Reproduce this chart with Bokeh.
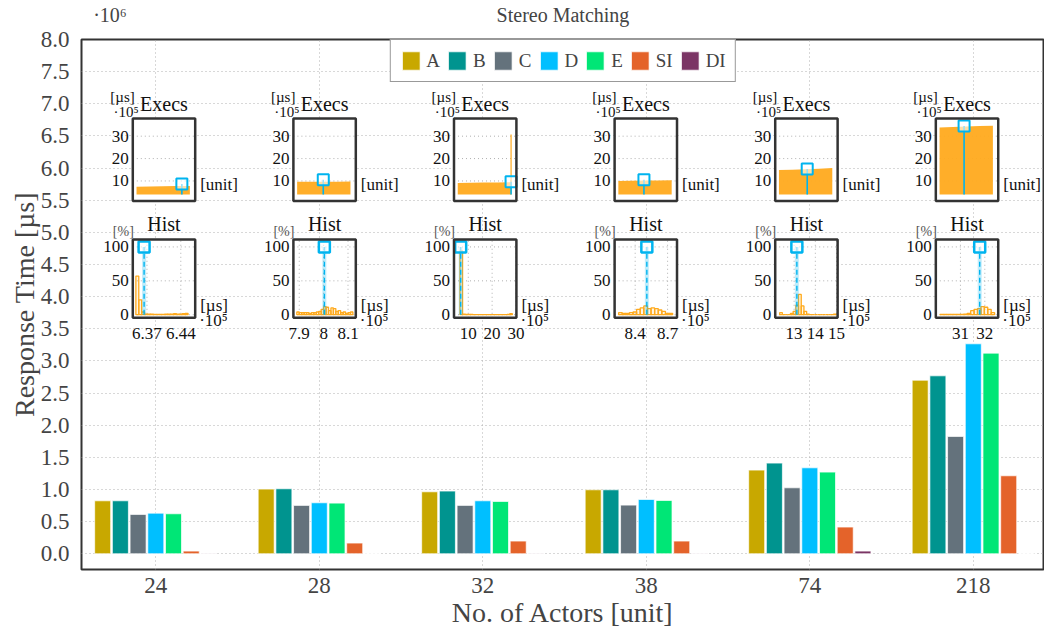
import numpy as np
from bokeh.plotting import figure
from bokeh.models import (Range1d, Legend, LegendItem, FixedTicker,
                          PrintfTickFormatter, LinearAxis)
from bokeh.core.properties import value
from bokeh.embed import file_html
from bokeh.resources import INLINE

# ---------------- data ----------------
actors = ["24", "28", "32", "38", "74", "218"]
series = ["A", "B", "C", "D", "E", "SI", "DI"]
A = [0.824, 1.006, 0.964, 0.995, 1.301, 2.700]
B = [0.824, 1.011, 0.975, 0.995, 1.410, 2.768]
C = [0.612, 0.752, 0.752, 0.757, 1.026, 1.825]
D = [0.632, 0.793, 0.824, 0.845, 1.337, 3.266]
E = [0.622, 0.788, 0.814, 0.829, 1.270, 3.121]
SI = [0.041, 0.166, 0.197, 0.197, 0.415, 1.213]
DI = [0.005, 0.0, 0.002, 0.003, 0.041, 0.0]
colors = ["#c8a800", "#00948f", "#64727c", "#00bfff", "#00e676", "#e4632a", "#7b3565"]

# Execs insets (response time per execution, x10^5 us)
exec_idx = [0, 25, 50, 75, 100]
exec_24 = [7.4, 7.5, 7.6, 7.7, 7.8]
exec_28 = [9.6, 9.6, 9.7, 9.7, 9.8]
exec_32 = [9.1, 9.2, 9.3, 9.3, 9.4]
exec_38 = [10.0, 10.1, 10.2, 10.2, 10.3]
exec_74 = [14.9, 15.0, 15.2, 15.5, 15.8]
exec_218 = [33.9, 34.1, 34.3, 34.5, 34.7]
exec_spike = [0, 0, 30.7, 0, 0, 0]
exec_mean_x = [85, 49, 100, 48, 53, 46]
exec_mean_y = [8.6, 10.5, 9.7, 10.5, 15.3, 34.5]

# Hist insets (bin start, bin width, heights in %)
hist_start = [6.347, 7.89, 6.5, 8.247, 12.32, 30.16]
hist_width = [0.006, 0.01, 1.1, 0.0333, 0.127, 0.14]
hist_24 = [57, 22, 4, 1, 1, 1, 0.5, 0.5, 0.5, 0.5, 1, 1, 1, 1.5, 1, 1, 1.5, 2]
hist_28 = [4, 3, 3, 3, 3, 2, 3, 3, 4, 5, 8, 12, 11, 6, 10, 9, 5, 6, 3, 4, 2, 3, 4]
hist_32 = [94, 1.0, 0.5, 0.3, 0.3, 0.2, 0.2, 0.2, 0.2, 0.2, 0.2, 0.2, 0.2, 0.2,
           0.2, 0.2, 0.2, 0.2, 0.3, 1.5]
hist_38 = [3, 2, 2, 3, 4, 8, 10, 13, 9, 10, 9, 7, 5, 2, 2]
hist_74 = [3, 0, 0, 0, 2, 5, 14, 30, 13, 5, 1, 0, 0, 0, 0, 0, 0, 0, 0, 0, 1]
hist_218 = [0.5, 0.3, 0.3, 0.3, 0.3, 0.3, 0.5, 1.0, 2, 6, 8, 9, 12, 11, 8, 3]
hist_mean = [6.364, 8.003, 6.8, 8.508, 13.13, 31.79]
hist_ticks = [[6.37, 6.44], [7.9, 8.0, 8.1], [10, 20, 30], [8.4, 8.7], [13, 14, 15], [31, 32]]
hist_tick_labels = [["6.37", "6.44"], ["7.9", "8", "8.1"], ["10", "20", "30"],
                    ["8.4", "8.7"], ["13", "14", "15"], ["31", "32"]]
hist_xr = [(6.3406, 6.4698), (7.876, 8.132), (4.0, 30.2), (8.21, 8.787),
           (12.11, 15.05), (29.99, 32.55)]

title_text = "Stereo Matching"
scale_text = "·10⁶"

# ---------------- styling ----------------
FONT = "Liberation Serif"
CYAN = "#00b4ef"
ORANGE = "#ffaa1d"
GRID = "#b0b0b0"
DARK = "#333333"

p = figure(frame_width=963, frame_height=530, output_backend="svg",
           toolbar_location=None, title=None,
           x_range=Range1d(-0.4544, 5.4355), y_range=Range1d(-0.245, 8.0),
           min_border_left=81, min_border_right=0, min_border_top=39,
           min_border_bottom=62, background_fill_color="white")

p.outline_line_color = DARK
p.outline_line_width = 2

xax = p.below[0]
yax = p.left[0]
xax.ticker = FixedTicker(ticks=list(range(len(actors))))
xax.major_label_overrides = {i: a for i, a in enumerate(actors)}
yax.ticker = FixedTicker(ticks=list(np.arange(0, 8.01, 0.5)))
yax.formatter = PrintfTickFormatter(format="%.1f")
for ax in (xax, yax):
    ax.axis_line_color = None
    ax.major_tick_line_color = None
    ax.minor_tick_line_color = None
    ax.major_label_text_font = FONT
    ax.major_label_text_font_size = "23px"
    ax.axis_label_text_font = FONT
    ax.axis_label_text_font_size = "28px"
    ax.axis_label_text_font_style = "normal"
xax.major_label_standoff = 2
yax.major_label_standoff = 6
xax.axis_label = "No. of Actors [unit]"
yax.axis_label = "Response Time [µs]"
xax.axis_label_standoff = 1
yax.axis_label_standoff = -2

# title row: the chart title and the y scale factor, as labels of a top axis
TITLE_X = 2.4905
SCALE_X = -0.28
top = LinearAxis(ticker=FixedTicker(ticks=[SCALE_X, TITLE_X]),
                 major_label_overrides={SCALE_X: scale_text, TITLE_X: title_text},
                 axis_line_color=None, major_tick_line_color=None,
                 minor_tick_line_color=None, major_label_standoff=8,
                 major_label_text_font=FONT, major_label_text_font_size="20px")
p.add_layout(top, "above")

p.xgrid.ticker = FixedTicker(ticks=list(range(len(actors))))
p.ygrid.ticker = FixedTicker(ticks=list(np.arange(0, 8.01, 0.5)))
for g in (p.xgrid, p.ygrid):
    g.grid_line_color = GRID
    g.grid_line_dash = "1 3"
    g.grid_line_width = 1

# ---------------- bars ----------------
values = [A, B, C, D, E, SI, DI]
pitch = 0.1083
items = []
xs = np.arange(len(actors))
for j, (name, vals, col) in enumerate(zip(series, values, colors)):
    r = p.vbar(x=xs + (j - 3) * pitch, top=vals, bottom=0, width=0.098,
               fill_color=col, line_color="white", line_width=1, line_alpha=0.7)
    items.append(LegendItem(label=name, renderers=[r]))

# ---------------- insets ----------------
BOX_LEFT0 = -0.1407
BOX_W = 0.3817
BOX_STEP = 0.9823
EX_B, EX_T = 5.486, 6.771
HI_B, HI_T = 3.671, 4.889
EX_XR = (-7, 110)
EX_YR = (1.0, 37.9)
HI_YR = (-4.5, 111)
EXEC_BASE = 4.0

execs = [exec_24, exec_28, exec_32, exec_38, exec_74, exec_218]
hists = [hist_24, hist_28, hist_32, hist_38, hist_74, hist_218]


def txt(sub, x, y, t, size, align="center", baseline="middle", dx=0, dy=0, color="#111111"):
    sub.text(x=x, y=y, text=t, text_font=value(FONT), text_font_size=size,
             text_align=align, text_baseline=baseline, x_offset=dx, y_offset=dy,
             text_color=color)


for i in range(len(actors)):
    left = BOX_LEFT0 + i * BOX_STEP
    right = left + BOX_W

    # ----- Execs -----
    ex = p.subplot(x_source=Range1d(*EX_XR), y_source=Range1d(*EX_YR),
                   x_target=Range1d(left, right), y_target=Range1d(EX_B, EX_T))
    x0, x1 = EX_XR
    y0, y1 = EX_YR
    ex.quad(left=[x0], right=[x1], bottom=[y0], top=[y1], fill_color="white",
            line_color=None)
    ex.segment(x0=[x0] * 3, x1=[x1] * 3, y0=[10, 20, 30], y1=[10, 20, 30],
               line_color=GRID, line_dash="1 3")
    ex.varea(x=exec_idx, y1=[EXEC_BASE] * len(exec_idx), y2=execs[i],
             fill_color=ORANGE, fill_alpha=0.95)
    if exec_spike[i] > 0:
        ex.segment(x0=[exec_idx[-1]], x1=[exec_idx[-1]], y0=[EXEC_BASE],
                   y1=[exec_spike[i]], line_color=ORANGE, line_width=1.2)
    ex.segment(x0=[exec_mean_x[i]], x1=[exec_mean_x[i]], y0=[EXEC_BASE],
               y1=[exec_mean_y[i]], line_color=CYAN, line_width=1.6)
    ex.scatter(x=[exec_mean_x[i]], y=[exec_mean_y[i]], marker="square", size=11,
               fill_color="white", fill_alpha=0.6, line_color=CYAN, line_width=2)
    ex.quad(left=[x0], right=[x1], bottom=[y0], top=[y1], fill_color=None,
            line_color=DARK, line_width=2.5)
    txt(ex, [x0] * 3, [10, 20, 30], ["10", "20", "30"], "17px", align="right", dx=-4)
    txt(ex, [(x0 + x1) / 2], [y1], ["Execs"], "20px", dy=-15)
    txt(ex, [x0], [y1], ["[µs]"], "15px", align="right", dx=2, dy=-22)
    txt(ex, [x0], [y1], ["·10⁵"], "15px", align="right", dx=6, dy=-7)
    txt(ex, [x1], [y0], ["[unit]"], "17px", align="left", dx=5, dy=-17)

    # ----- Hist -----
    hx0, hx1 = hist_xr[i]
    hy0, hy1 = HI_YR
    hi = p.subplot(x_source=Range1d(hx0, hx1), y_source=Range1d(*HI_YR),
                   x_target=Range1d(left, right), y_target=Range1d(HI_B, HI_T))
    hi.quad(left=[hx0], right=[hx1], bottom=[hy0], top=[hy1], fill_color="white",
            line_color=None)
    tk = hist_ticks[i]
    hi.segment(x0=tk, x1=tk, y0=[hy0] * len(tk), y1=[hy1] * len(tk),
               line_color=GRID, line_dash="1 3")
    hi.segment(x0=[hx0] * 3, x1=[hx1] * 3, y0=[0, 50, 100], y1=[0, 50, 100],
               line_color=GRID, line_dash="1 3")
    h = hists[i]
    edges = hist_start[i] + hist_width[i] * np.arange(len(h) + 1)
    hi.quad(left=edges[:-1], right=edges[1:], bottom=0, top=h,
            fill_color=ORANGE, fill_alpha=0.12, line_color=ORANGE, line_width=1.3)
    hi.segment(x0=[hist_mean[i]], x1=[hist_mean[i]], y0=[0], y1=[100],
               line_color=CYAN, line_width=4, line_alpha=0.25)
    hi.segment(x0=[hist_mean[i]], x1=[hist_mean[i]], y0=[0], y1=[100],
               line_color=CYAN, line_width=1.4, line_dash="5 3")
    hi.scatter(x=[hist_mean[i]], y=[100], marker="square", size=11,
               fill_color="white", fill_alpha=0.6, line_color=CYAN, line_width=2.5)
    hi.quad(left=[hx0], right=[hx1], bottom=[hy0], top=[hy1], fill_color=None,
            line_color=DARK, line_width=2.5)
    txt(hi, [hx0] * 3, [0, 50, 100], ["0", "50", "100"], "17px", align="right", dx=-4)
    txt(hi, tk, [hy0] * len(tk), hist_tick_labels[i], "17px", baseline="top", dy=10)
    txt(hi, [(hx0 + hx1) / 2], [hy1], ["Hist"], "20px", dy=-15)
    txt(hi, [hx0], [hy1], ["[%]"], "14px", align="right", dx=1, dy=-8, color="#555555")
    txt(hi, [hx1], [hy0], ["[µs]"], "17px", align="left", dx=5, dy=-12)
    txt(hi, [hx1], [hy0], ["·10⁵"], "17px", align="left", dx=4, dy=3)

# ---------------- legend ----------------
legend = Legend(items=items, orientation="horizontal", location="top_center",
                margin=0, padding=9, spacing=6, label_standoff=5, label_width=0,
                glyph_width=22, glyph_height=23,
                label_text_font=FONT, label_text_font_size="19px",
                border_line_color=DARK, border_line_width=1.3,
                background_fill_color="white", background_fill_alpha=1.0)
p.add_layout(legend)

open("out.html", "w").write(file_html(p, INLINE))
